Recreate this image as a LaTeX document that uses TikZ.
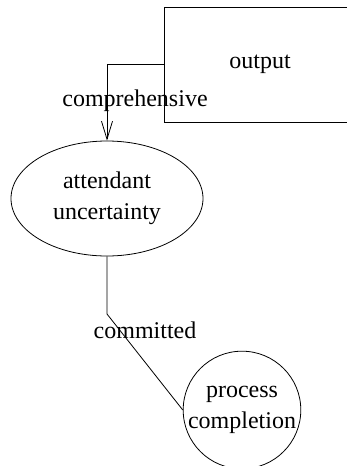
\documentclass[tikz,border=0pt]{standalone}
\usepackage{fontspec}
\setmainfont{Liberation Serif}
\usetikzlibrary{shapes.geometric,arrows.meta}
\begin{document}
\begin{tikzpicture}[x=1pt,y=-1pt,
  every node/.style={font=\fontsize{24}{31}\selectfont},
  conn/.style={draw=black,line width=0.8pt},
  boxnode/.style={draw,line width=0.8pt,rectangle,inner sep=0pt,minimum width=192pt,minimum height=115pt},
  ellnode/.style={draw,line width=0.8pt,ellipse,inner sep=0pt,minimum width=192pt,minimum height=115pt,align=center},
  circnode/.style={draw,line width=0.8pt,circle,inner sep=0pt,minimum size=116pt,align=center},
  lbl/.style={inner sep=0pt,fill=none}]
\useasboundingbox (0,0) rectangle (347,466);
\clip (0,0) rectangle (347,466);
\node[boxnode] (out) at (260,64.5) {output};
\node[ellnode] (att) at (107,198.5) {attendant\\uncertainty};
\node[circnode] (proc) at (242,410) {process\\completion};
\coordinate (bend) at (107,314);
\draw[conn,-{Straight Barb[length=18pt,width=11pt]}] (out.west) -| (att.north);
\draw[conn] (att.south) -- (bend) -- (proc.west);
\node[lbl] (l1) at (135,101) {comprehensive};
\node[lbl] (l2) at (145,330) {committed};
\end{tikzpicture}
\end{document}
